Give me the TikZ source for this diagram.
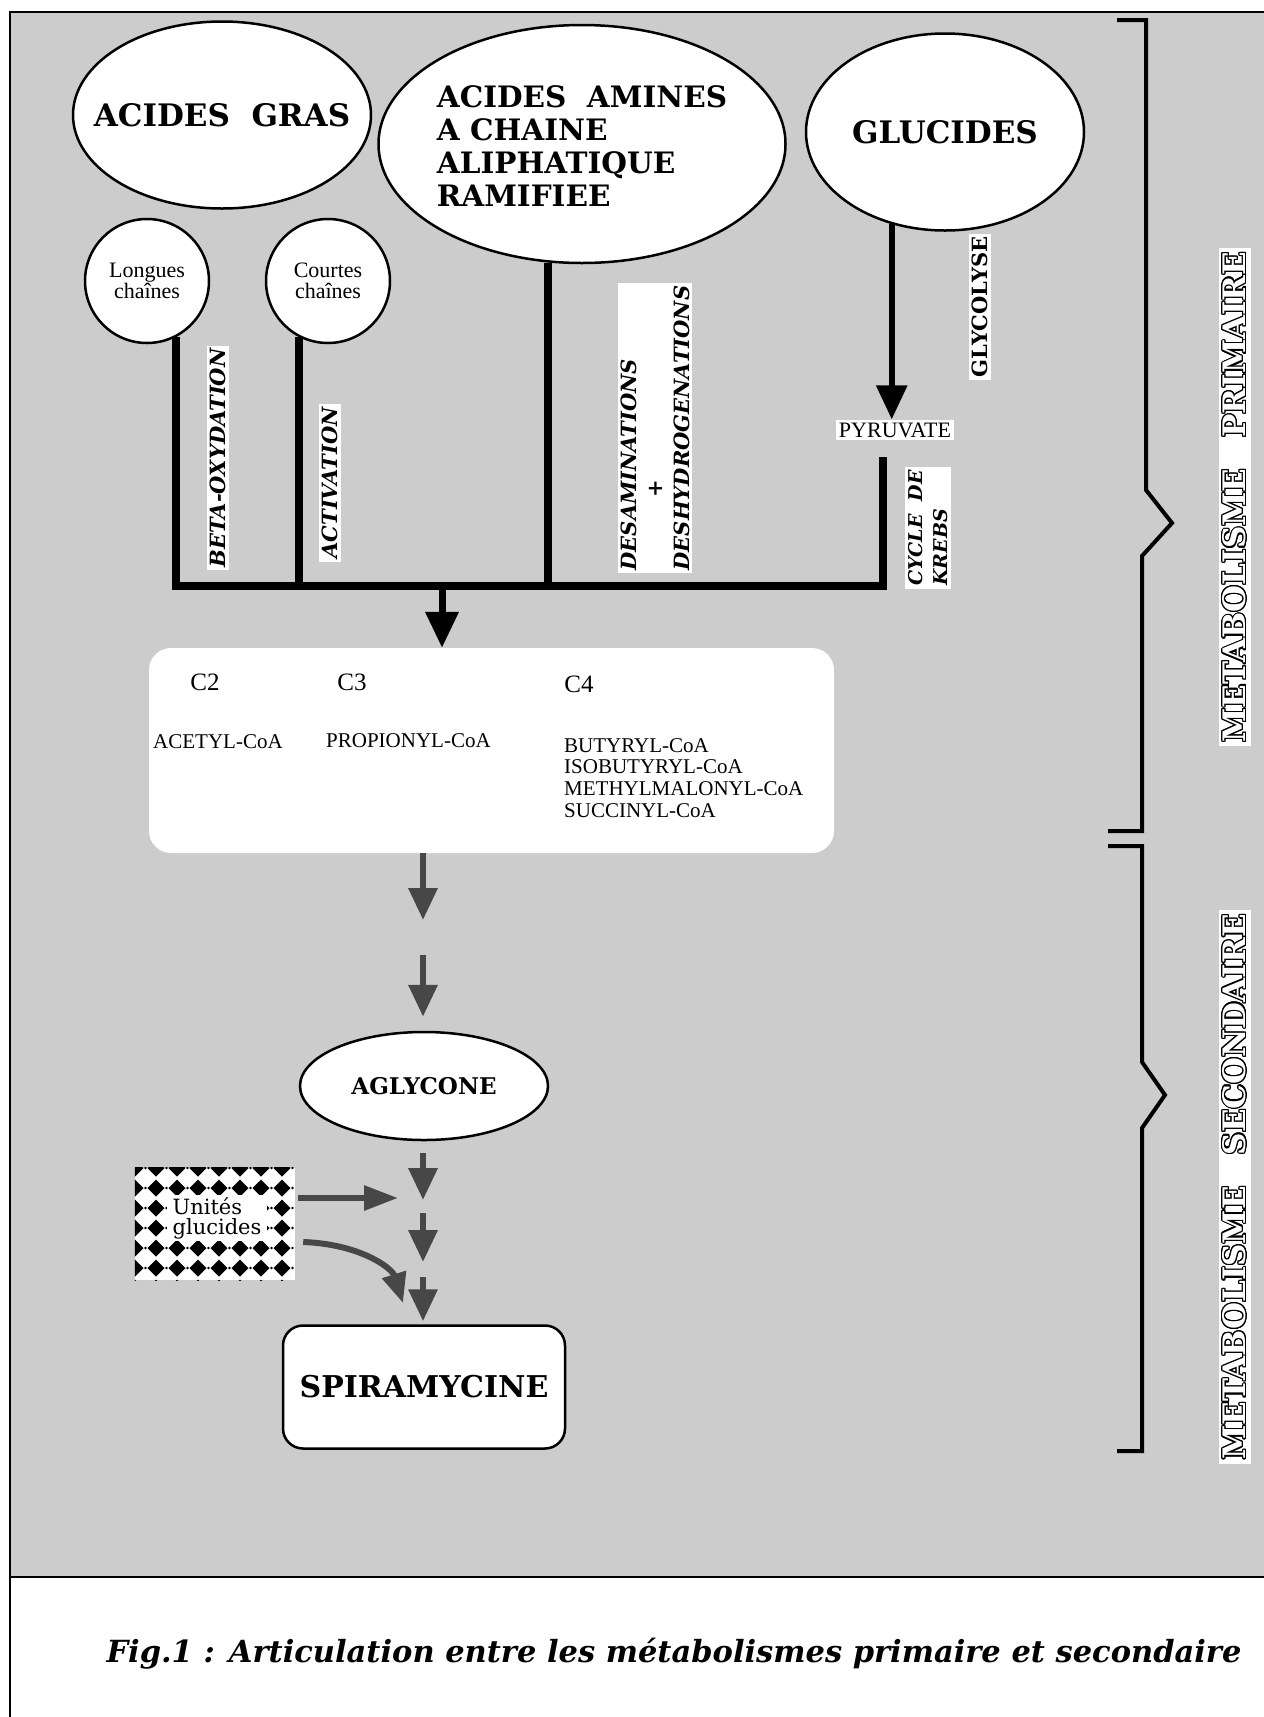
\documentclass[tikz,border=0pt]{standalone}
\usepackage{fontspec}
\setmainfont{DejaVu Serif}
\newfontfamily\timesfont{Liberation Serif}
\usepackage{contour}
\contourlength{1.2pt}
\usetikzlibrary{shapes.geometric,arrows.meta}

\begin{document}
\begin{tikzpicture}[x=1pt,y=-1pt,%
% common options for the big ellipses:
big/.style = {ellipse, draw, fill=white, line width=2.5pt, inner sep=0,
            align=left, font=\fontsize{31}{33}\selectfont\bfseries},
% common options for the small circles:
ball/.style = {circle, draw, fill=white, line width=2.5pt, inner sep=0,
            minimum size=124pt, align=center, font=\timesfont\fontsize{22}{21}\selectfont},
% labels written along the lines:
vlabel/.style = {rotate=90, fill=white, inner sep=3pt, align=left,
            font=\fontsize{21}{26.5}\selectfont\bfseries\itshape},
% texts of the CoA box:
coa/.style = {anchor=base west, inner sep=0, align=left,
            font=\timesfont\fontsize{21}{21.7}\selectfont},
flow/.style = {line width=8pt},
bigarrow/.style = {line width=7pt, -{Triangle[width=32pt,length=36pt]}},
greyarrow/.style = {line width=6.5pt, black!72, -{Triangle[width=28pt,length=32pt]}},
brace/.style = {line width=4pt}]
\useasboundingbox (0,0) rectangle (1264,1717);
\fill[white] (0,0) rectangle (1264,1717);
\fill[black!20] (10,12) rectangle (1264,1577);
\draw[line width=2.5pt] (1264,12) -- (10,12) -- (10,1717);
\draw[line width=2.5pt] (10,1577) -- (1264,1577);

% primary metabolism
\node[big, minimum width=298pt, minimum height=187pt] (gras) at (222,115) {\makebox[0pt]{ACIDES\ \ GRAS}};
\node[big, minimum width=407pt, minimum height=238pt, font=\fontsize{29.5}{33}\selectfont\bfseries] (amines) at (582,144)
   {\makebox[0pt]{\raisebox{-13pt}[0pt][0pt]{\begin{tabular}{@{}l@{}}ACIDES\ \ AMINES\\A CHAINE\\ALIPHATIQUE\\RAMIFIEE\end{tabular}}}};
\node[big, minimum width=278pt, minimum height=197pt] (glucides) at (945,132) {\makebox[0pt]{GLUCIDES}};
\node[ball] (longues) at (147,281) {Longues\\chaînes};
\node[ball] (courtes) at (328,281) {Courtes\\chaînes};

\node[vlabel] (beta) at (218,458) {BETA-OXYDATION};
\node[vlabel] (activ) at (330,483) {ACTIVATION};
\node[vlabel] (desam) at (655,428) {DESAMINATIONS\\\hspace*{73pt}+\\DESHYDROGENATIONS};
\node[vlabel, font=\fontsize{21}{26}\selectfont\bfseries] (glyco) at (980,307) {GLYCOLYSE};
\node[vlabel, font=\fontsize{19}{25}\selectfont\bfseries\itshape] (krebs) at (928,528) {CYCLE\ \ DE\\KREBS};
\node[fill=white, inner sep=3pt, font=\timesfont\fontsize{22}{22}\selectfont] (pyruvate) at (895,430) {PYRUVATE};

\coordinate (bus) at (442,586);
\coordinate (krebstop) at (883,457);
\draw[flow] (longues.-63) |- (bus) -| (krebstop);
\draw[flow] (courtes.-117) -- (courtes.-117 |- bus);
\draw[flow] (amines.-106) -- (amines.-106 |- bus);
\draw[line width=6pt, -{Triangle[width=30pt,length=34pt]}] (glucides.-120) -- (glucides.-120 |- pyruvate.north);

% box of the CoA
\node[fill=white, rounded corners=22pt, minimum width=685pt, minimum height=205pt, inner sep=0] (cbox) at (491.5,750.5) {};
\draw[bigarrow] (bus) -- (bus |- cbox.north);
\node[font=\timesfont\fontsize{25}{25}\selectfont] (c2) at (205,682) {C2};
\node[font=\timesfont\fontsize{25}{25}\selectfont] (c3) at (352,682) {C3};
\node[font=\timesfont\fontsize{25}{25}\selectfont] (c4) at (579,684) {C4};
\node[coa] (acetyl) at (153,748) {ACETYL-CoA};
\node[coa] (propionyl) at (326,747) {PROPIONYL-CoA};
\node[coa, anchor=north west] (c4list) at (564,738)
   {BUTYRYL-CoA\\ISOBUTYRYL-CoA\\METHYLMALONYL-CoA\\SUCCINYL-CoA};

% secondary metabolism
\node[big, minimum width=248pt, minimum height=108pt, font=\fontsize{23}{23}\selectfont\bfseries] (aglycone) at (424,1086) {AGLYCONE};
\node[draw, fill=white, rounded corners=20pt, line width=2.5pt, minimum width=282pt, minimum height=123pt,
   font=\fontsize{30}{30}\selectfont\bfseries] (spira) at (424,1387) {SPIRAMYCINE};

\coordinate (g1) at (423,920);
\coordinate (g2) at (423,955);
\coordinate (g3) at (423,1200);
\coordinate (g4) at (423,1213);
\coordinate (g5) at (423,1262);
\coordinate (g6) at (423,1277);
\draw[greyarrow] (cbox.south -| g1) -- (g1);
\draw[greyarrow, shorten >=14pt] (g2) -- (g2 |- aglycone.north);
\draw[greyarrow, shorten <=12pt] (aglycone.south -| g3) -- (g3);
\draw[greyarrow] (g4) -- (g5);
\draw[greyarrow, shorten >=3pt] (g6) -- (g6 |- spira.north);

% sugar units
\node[fill=white, minimum width=160pt, minimum height=112pt, inner sep=0] (unites) at (215,1224) {};
\begin{scope}
\clip (unites.south west) rectangle (unites.north east);
\foreach \i in {0,...,7}
  \foreach \j in {0,...,6} {
    \fill (135+21*\i,1168+20*\j) ++(0,-8.5) -- ++(8.5,8.5) -- ++(-8.5,8.5) -- ++(-8.5,-8.5) -- cycle;
    \fill (145.5+21*\i,1168+20*\j) circle (1.3pt);
  }
\end{scope}
\node[fill=white, inner xsep=6pt, inner ysep=2pt, align=left, font=\fontsize{21}{20}\selectfont] (unitxt) at (217,1218) {Unités\\glucides};
\coordinate (s1) at (398,1198);
\coordinate (s2) at (403,1303);
\draw[greyarrow, line width=6pt, -{Triangle[width=24pt,length=34pt]}] ([xshift=3pt,yshift=26pt]unites.east) -- (s1);
\draw[greyarrow, line width=6pt, -{Triangle[width=24pt,length=30pt]}] ([xshift=8pt,yshift=-18pt]unites.east)
   .. controls (360,1244) and (392,1268) .. (s2);

% braces on the right
\draw[brace] (1117,20) -- (1146,20) -- (1146,490) -- (1172,523) -- (1142,556) -- (1142,831) -- (1108,831);
\draw[brace] (1108,846) -- (1142,846) -- (1142,1062) -- (1165,1095) -- (1142,1128) -- (1142,1451) -- (1117,1451);
\node[rotate=90, fill=white, inner sep=4pt, font=\fontsize{31}{31}\selectfont\bfseries] (primaire) at (1235,497)
   {\color{white}\contour{black}{METABOLISME}\hspace{1em}\contour{black}{PRIMAIRE}};
\node[rotate=90, fill=white, inner sep=4pt, font=\fontsize{31}{31}\selectfont\bfseries] (secondaire) at (1235,1187)
   {\color{white}\contour{black}{METABOLISME}\hspace{1em}\contour{black}{SECONDAIRE}};

\node[font=\fontsize{30.5}{30}\selectfont\bfseries\itshape] (caption) at (674,1654)
   {Fig.1 : Articulation entre les métabolismes primaire et secondaire};
\end{tikzpicture}
\end{document}
